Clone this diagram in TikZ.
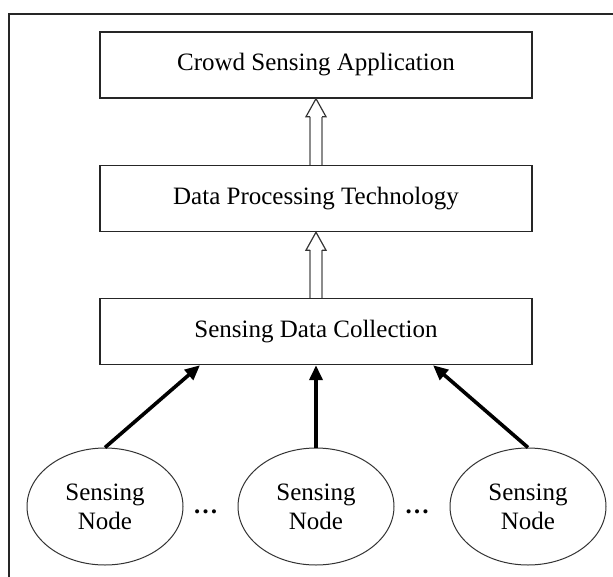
\documentclass[tikz,border=0pt]{standalone}
\usepackage{fontspec}
\setmainfont{Liberation Serif}
\usetikzlibrary{shapes.geometric,arrows.meta,calc}

\tikzset{
  layerbox/.style={draw=black!85, line width=1.4pt, minimum width=432pt,
    minimum height=66pt, inner sep=0pt, font=\fontsize{25}{29}\selectfont},
  sensenode/.style={draw=black!80, line width=1pt, ellipse, minimum width=156pt,
    minimum height=117pt, inner sep=0pt, align=center,
    font=\fontsize{25}{29}\selectfont},
  feed/.style={line width=3.6pt, -{Triangle[length=15pt,width=13pt]}},
  gap/.style={font=\fontsize{25}{29}\selectfont\bfseries, inner sep=0pt},
  hollowshaft/.style={draw=black!45, line width=1.2pt},
  hollowhead/.style={draw=black!80, line width=1.2pt, line join=miter},
}

\begin{document}
\begin{tikzpicture}[x=1pt, y=-1pt]
  \useasboundingbox (0,0) rectangle (613,576);
  \fill[white] (0,0) rectangle (613,576);

  % outer frame (only top and left edges fall inside the page)
  \draw[line width=1.4pt, black!85] (9,590) -- (9,14) -- (630,14);

  % the three layers
  \node[layerbox] (app)  at (316,65)    {Crowd Sensing Application};
  \node[layerbox] (proc) at (316,198.5) {Data Processing Technology};
  \node[layerbox] (coll) at (316,331.5) {Sensing Data Collection};

  % sensing nodes
  \node[sensenode] (s1) at (105,506.5) {Sensing\\Node};
  \node[sensenode] (s2) at (316,506.5) {Sensing\\Node};
  \node[sensenode] (s3) at (528,506.5) {Sensing\\Node};

  \node[gap, anchor=base] (d1) at (205.5,513) {\dots};
  \node[gap, anchor=base] (d2) at (417,513) {\dots};

  % hollow block arrows between the layers
  \foreach \lo/\hi in {proc/app, coll/proc}{
    \coordinate (b) at (\lo.north);
    \coordinate (t) at (\hi.south);
    \draw[hollowshaft] ($(b)+(-6,0)$) -- ($(t)+(-6,18)$);
    \draw[hollowshaft] ($(b)+(6,0)$) -- ($(t)+(6,18)$);
    \draw[hollowhead] ($(t)+(-6,18)$) -- ($(t)+(-10,18)$) -- (t)
      -- ($(t)+(10,18)$) -- ($(t)+(6,18)$);
  }

  % feeds from sensing nodes into the collection layer
  \coordinate (f1) at (200,365);
  \coordinate (f3) at (433,365);
  \draw[feed] (s1.north) -- (coll.south -| f1);
  \draw[feed] (s2.north) -- (coll.south);
  \draw[feed] (s3.north) -- (coll.south -| f3);
\end{tikzpicture}
\end{document}
